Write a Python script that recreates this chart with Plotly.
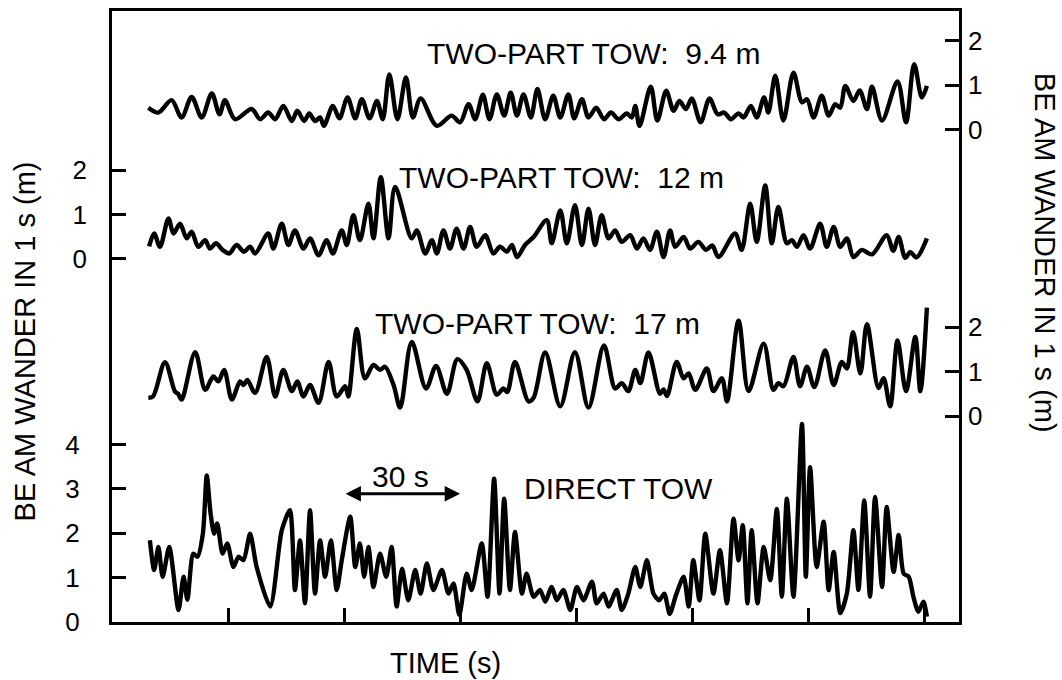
import plotly.graph_objects as go

# ---- time axis (s) and beam wander (m) for the four tow configurations ----
t_94 = [9.4, 12.0, 15.4, 18.0, 20.6, 23.2, 25.8, 27.8, 29.2, 31.8,
        36.1, 38.3, 40.4, 42.2, 44.3, 46.5, 47.9, 49.7, 51.0, 52.5,
        53.8, 54.8, 57.1, 58.8, 60.9, 62.9, 64.6, 66.6, 68.5, 70.0,
        71.7, 73.8, 76.0, 77.8, 79.8, 84.0, 87.8, 90.0, 92.2, 93.9,
        95.9, 97.6, 99.5, 101.4, 103.1, 104.7, 106.4, 108.3, 110.0, 112.0,
        114.1, 115.9, 118.0, 119.5, 121.5, 123.2, 125.2, 127.2, 129.0, 131.0,
        133.1, 134.4, 135.3, 136.4, 139.3, 141.0, 143.3, 145.2, 146.7, 148.4,
        149.9, 152.2, 154.5, 156.6, 158.3, 160.0, 162.0, 163.3, 165.2, 166.7,
        168.6, 169.7, 171.5, 173.6, 176.2, 178.4, 179.7, 181.4, 183.5, 185.3,
        187.0, 188.3, 189.6, 191.7, 193.3, 195.2, 196.5, 199.1, 203.1, 205.3,
        207.4, 209.4, 210.7]
w_94 = [0.49, 0.38, 0.66, 0.27, 0.73, 0.27, 0.81, 0.34, 0.66, 0.23,
        0.46, 0.23, 0.38, 0.23, 0.53, 0.19, 0.42, 0.19, 0.36, 0.19,
        0.27, 0.08, 0.53, 0.25, 0.72, 0.25, 0.68, 0.25, 0.64, 0.23,
        1.24, 0.23, 1.17, 0.27, 0.70, 0.08, 0.31, 0.16, 0.57, 0.23,
        0.78, 0.23, 0.79, 0.31, 0.83, 0.31, 0.79, 0.27, 0.91, 0.23,
        0.76, 0.27, 0.79, 0.25, 0.68, 0.27, 0.49, 0.23, 0.38, 0.23,
        0.36, 0.27, 0.53, 0.08, 0.96, 0.20, 0.87, 0.42, 0.64, 0.46,
        0.70, 0.16, 0.70, 0.34, 0.38, 0.23, 0.36, 0.27, 0.53, 0.27,
        0.72, 0.38, 1.21, 0.20, 1.28, 0.61, 0.68, 0.27, 0.76, 0.31,
        0.57, 0.49, 0.98, 0.64, 0.88, 0.46, 0.96, 0.20, 1.08, 0.16,
        1.47, 0.72, 0.98]

t_12 = [9.6, 10.9, 12.4, 14.6, 15.9, 17.6, 19.3, 20.6, 22.3, 24.1,
        25.3, 26.9, 28.6, 30.3, 32.2, 34.1, 35.7, 37.0, 40.4, 41.7,
        43.9, 45.6, 47.3, 49.5, 51.2, 53.4, 55.5, 57.1, 59.4, 60.7,
        62.4, 64.1, 66.3, 67.6, 69.5, 71.5, 73.2, 77.5, 78.8, 81.0,
        82.7, 84.0, 85.7, 87.4, 89.1, 90.9, 92.6, 94.3, 96.5, 98.6,
        100.3, 102.1, 103.4, 104.7, 106.8, 109.0, 112.4, 113.7, 115.9, 117.6,
        119.7, 121.5, 123.2, 124.9, 126.6, 128.4, 130.1, 131.8, 134.0, 135.7,
        137.4, 139.1, 140.9, 142.6, 144.3, 145.6, 147.8, 149.5, 151.6, 153.6,
        155.2, 156.8, 161.1, 162.8, 165.0, 166.7, 168.9, 170.6, 172.3, 174.5,
        175.8, 177.1, 178.8, 180.5, 183.1, 184.8, 186.6, 188.3, 190.0, 191.7,
        193.9, 196.5, 200.3, 202.0, 203.4, 205.1, 206.4, 208.0, 210.7]
w_12 = [0.28, 0.57, 0.27, 0.91, 0.57, 0.79, 0.46, 0.61, 0.27, 0.42,
        0.23, 0.35, 0.20, 0.12, 0.31, 0.16, 0.27, 0.12, 0.57, 0.23,
        0.79, 0.31, 0.64, 0.23, 0.46, 0.08, 0.42, 0.12, 0.64, 0.31,
        0.98, 0.42, 1.24, 0.46, 1.84, 0.46, 1.62, 0.46, 0.64, 0.12,
        0.42, 0.12, 0.64, 0.23, 0.68, 0.23, 0.72, 0.27, 0.53, 0.12,
        0.27, 0.16, 0.31, 0.04, 0.31, 0.49, 0.87, 0.35, 1.09, 0.35,
        1.21, 0.31, 1.13, 0.31, 0.98, 0.46, 0.64, 0.38, 0.53, 0.23,
        0.46, 0.20, 0.61, 0.04, 0.64, 0.27, 0.49, 0.23, 0.38, 0.20,
        0.30, 0.04, 0.57, 0.20, 1.24, 0.38, 1.65, 0.35, 1.17, 0.35,
        0.42, 0.27, 0.53, 0.23, 0.79, 0.27, 0.72, 0.27, 0.46, 0.04,
        0.20, 0.10, 0.53, 0.18, 0.49, 0.02, 0.15, 0.03, 0.46]

t_17 = [9.4, 10.6, 13.7, 16.3, 17.1, 18.0, 21.5, 24.1, 26.2, 27.5,
        29.0, 31.0, 33.1, 34.0, 35.0, 37.0, 40.0, 42.2, 44.3, 46.5,
        47.9, 49.5, 51.2, 53.4, 56.0, 58.1, 60.3, 61.1, 63.3, 65.4,
        67.6, 69.3, 70.6, 72.8, 74.5, 77.5, 81.2, 83.8, 86.6, 89.3,
        91.7, 94.5, 96.9, 99.5, 101.2, 102.2, 104.2, 107.7, 109.0, 112.0,
        115.9, 119.7, 123.2, 127.2, 130.1, 131.8, 133.5, 135.3, 136.6, 138.7,
        141.7, 142.6, 143.5, 146.0, 147.8, 149.1, 150.8, 153.8, 155.5, 157.7,
        159.0, 162.0, 164.6, 168.5, 171.0, 172.3, 173.6, 176.2, 177.9, 179.7,
        181.6, 184.4, 186.6, 188.7, 190.0, 191.6, 193.5, 195.2, 198.2, 199.5,
        201.2, 203.1, 205.3, 207.7, 209.0, 210.7]
w_17 = [0.41, 0.44, 1.21, 0.55, 0.50, 0.37, 1.44, 0.59, 0.89, 0.78,
        1.04, 0.37, 0.78, 0.70, 0.81, 0.52, 1.33, 0.44, 1.04, 0.56,
        0.78, 0.44, 0.70, 0.30, 1.22, 0.44, 0.67, 0.44, 1.96, 0.85,
        1.15, 1.04, 1.11, 0.70, 0.19, 1.67, 0.62, 1.13, 0.50, 1.28,
        1.04, 0.33, 1.19, 0.48, 0.62, 0.54, 1.22, 0.33, 0.41, 1.43,
        0.22, 1.44, 0.19, 1.59, 0.62, 0.74, 0.56, 1.04, 0.74, 1.43,
        0.50, 0.60, 0.45, 1.22, 0.85, 0.96, 0.59, 1.07, 0.56, 0.85,
        0.33, 2.15, 0.56, 1.63, 0.59, 0.74, 0.67, 1.33, 0.67, 1.11,
        0.65, 1.48, 0.70, 1.22, 1.07, 1.89, 0.96, 2.07, 0.63, 0.85,
        0.22, 1.70, 0.56, 1.78, 0.56, 2.44]

t_direct = [9.8, 10.9, 12.0, 13.1, 14.8, 17.2, 18.5, 19.5, 21.0, 22.1,
            23.5, 24.5, 25.5, 26.4, 27.2, 28.6, 29.8, 31.4, 32.7, 34.0,
            35.7, 37.4, 40.9, 43.9, 46.0, 47.3, 48.6, 49.9, 51.2, 52.5,
            53.8, 55.1, 56.6, 58.1, 59.4, 61.6, 62.9, 64.1, 65.2, 66.3,
            67.6, 69.3, 70.9, 72.3, 73.6, 75.0, 76.6, 78.4, 79.8, 81.4,
            83.1, 85.3, 87.0, 88.3, 89.8, 91.7, 93.0, 95.6, 97.1, 98.8,
            100.2, 101.4, 102.9, 104.2, 106.0, 107.2, 109.0, 110.7, 112.0, 113.7,
            115.0, 116.7, 118.5, 120.2, 121.9, 124.1, 125.3, 127.1, 128.4, 130.5,
            131.8, 133.5, 135.3, 136.6, 138.3, 140.0, 141.5, 142.8, 144.2, 145.8,
            147.8, 149.1, 150.3, 151.9, 153.4, 155.5, 157.2, 159.0, 160.7, 162.0,
            163.1, 164.3, 165.4, 166.9, 168.5, 170.2, 171.9, 173.2, 174.5, 176.2,
            178.4, 179.4, 180.5, 182.2, 184.0, 185.3, 186.6, 188.3, 190.0, 191.7,
            193.0, 194.5, 196.0, 197.3, 199.1, 200.3, 202.1, 203.4, 204.7, 206.0,
            207.2, 208.5, 209.8, 210.7]
w_direct = [1.84, 1.17, 1.69, 1.02, 1.69, 0.27, 1.02, 0.50, 1.54, 1.47,
            1.99, 3.30, 2.44, 1.99, 2.22, 1.54, 1.77, 1.24, 1.47, 1.39,
            1.99, 1.24, 0.35, 2.07, 2.52, 0.72, 1.84, 0.42, 2.52, 0.64,
            1.84, 1.02, 1.84, 0.72, 1.39, 2.37, 1.24, 1.77, 1.02, 1.69,
            0.79, 1.54, 1.02, 1.69, 0.35, 1.20, 0.49, 1.17, 0.64, 1.32,
            0.72, 1.17, 0.64, 0.87, 0.16, 1.09, 0.72, 1.77, 0.57, 3.23,
            0.64, 2.78, 0.72, 2.03, 0.64, 1.09, 0.57, 0.72, 0.46, 0.79,
            0.49, 0.72, 0.27, 0.79, 0.49, 0.91, 0.42, 0.64, 0.35, 0.72,
            0.27, 0.64, 1.24, 0.79, 1.39, 0.64, 0.49, 0.64, 0.18, 0.60,
            1.02, 0.35, 1.39, 0.49, 1.99, 0.64, 1.62, 0.42, 2.33, 1.39,
            2.18, 0.42, 2.07, 0.42, 1.69, 0.94, 2.55, 0.57, 2.78, 0.57,
            4.46, 1.02, 3.49, 1.24, 2.26, 0.72, 1.58, 0.20, 0.64, 2.07,
            0.72, 2.74, 0.57, 2.82, 0.79, 2.59, 1.13, 1.96, 1.09, 1.02,
            0.57, 0.23, 0.46, 0.12]

x_ticks = [30, 60, 90, 120, 150, 180, 210]
left_ticks_12 = [0, 1, 2]
left_ticks_direct = [0, 1, 2, 3, 4]
right_ticks_94 = [0, 1, 2]
right_ticks_17 = [0, 1, 2]

FONT = "Liberation Sans, Arial, Helvetica, sans-serif"
INK = "black"
PX_PER_M = 44.6          # every panel shares the same metres-per-pixel scale
PLOT_H = 614

def panel_range(zero_from_bottom_px):
    lo = -zero_from_bottom_px / PX_PER_M
    return [lo, lo + PLOT_H / PX_PER_M]

fig = go.Figure()
for t, w, ax, smooth in [(t_94, w_94, "y3", 0.9), (t_12, w_12, "y2", 0.9),
                         (t_17, w_17, "y4", 0.9),
                         (t_direct, w_direct, "y", 0.7)]:
    n = min(len(t), len(w))
    fig.add_trace(go.Scatter(
        x=t[:n], y=w[:n], yaxis=ax, mode="lines",
        line=dict(color=INK, width=4.4, shape="spline", smoothing=smooth),
        showlegend=False, hoverinfo="skip"))

common_y = dict(showgrid=False, zeroline=False, ticks="inside", ticklen=14,
                tickwidth=3, tickcolor=INK,
                tickfont=dict(family=FONT, size=26, color=INK))

fig.update_layout(
    width=1062, height=680,
    margin=dict(l=112, r=103, t=8, b=58),
    paper_bgcolor="white", plot_bgcolor="white",
    font=dict(family=FONT, color=INK),
    xaxis=dict(range=[0, 219], showgrid=False, zeroline=False,
               showline=True, linewidth=3, linecolor=INK, mirror=True,
               ticks="inside", tickvals=x_ticks, ticklen=14, tickwidth=3,
               tickcolor=INK, showticklabels=False),
    yaxis=dict(range=panel_range(0), tickvals=left_ticks_direct,
               showline=True, linewidth=3, linecolor=INK, mirror=True,
               ticklabelstandoff=24, **common_y),
    yaxis2=dict(range=panel_range(622 - 257), tickvals=left_ticks_12,
                overlaying="y", side="left", showline=False,
                ticklabelstandoff=24, **common_y),
    yaxis3=dict(range=panel_range(622 - 127), tickvals=right_ticks_94,
                overlaying="y", side="right", showline=False,
                ticklabelstandoff=8, **common_y),
    yaxis4=dict(range=panel_range(622 - 415), tickvals=right_ticks_17,
                overlaying="y", side="right", showline=False,
                ticklabelstandoff=8, **common_y),
)

label_font = dict(family=FONT, size=30, color=INK)
centred = dict(showarrow=False, xanchor="center", yanchor="middle")
fig.add_annotation(x=124.4, y=1.72, xref="x", yref="y3",
                   text="TWO-PART TOW:\u00a0 9.4 m", font=label_font, **centred)
fig.add_annotation(x=116.1, y=1.84, xref="x", yref="y2",
                   text="TWO-PART TOW:\u00a0 12 m", font=label_font, **centred)
fig.add_annotation(x=109.9, y=2.09, xref="x", yref="y4",
                   text="TWO-PART TOW:\u00a0 17 m", font=label_font, **centred)
fig.add_annotation(x=130.9, y=3.0, xref="x", yref="y",
                   text="DIRECT TOW", font=label_font, **centred)

# 30 s scale bar
fig.add_annotation(x=74.5, y=3.27, xref="x", yref="y",
                   text="30 s", font=label_font, **centred)
fig.add_annotation(x=90, y=2.89, ax=60, ay=2.89, xref="x", yref="y",
                   axref="x", ayref="y", text="", showarrow=True,
                   arrowhead=2, arrowside="end+start", arrowsize=1.1,
                   arrowwidth=2.8, arrowcolor=INK)

axis_font = dict(family=FONT, size=29, color=INK)
fig.add_annotation(x=(445 - 112) / 847, y=(622 - 663) / 614, xref="paper",
                   yref="paper", text="TIME (s)", font=axis_font, **centred)
fig.add_annotation(x=(25 - 112) / 847, y=(622 - 340) / 614, xref="paper",
                   yref="paper", textangle=-90,
                   text="BE AM WANDER IN 1 s (m)", font=axis_font, **centred)
fig.add_annotation(x=(1045 - 112) / 847, y=(622 - 251) / 614, xref="paper",
                   yref="paper", textangle=90,
                   text="BE AM WANDER IN 1 s (m)", font=axis_font, **centred)

fig.write_html("out.html")
